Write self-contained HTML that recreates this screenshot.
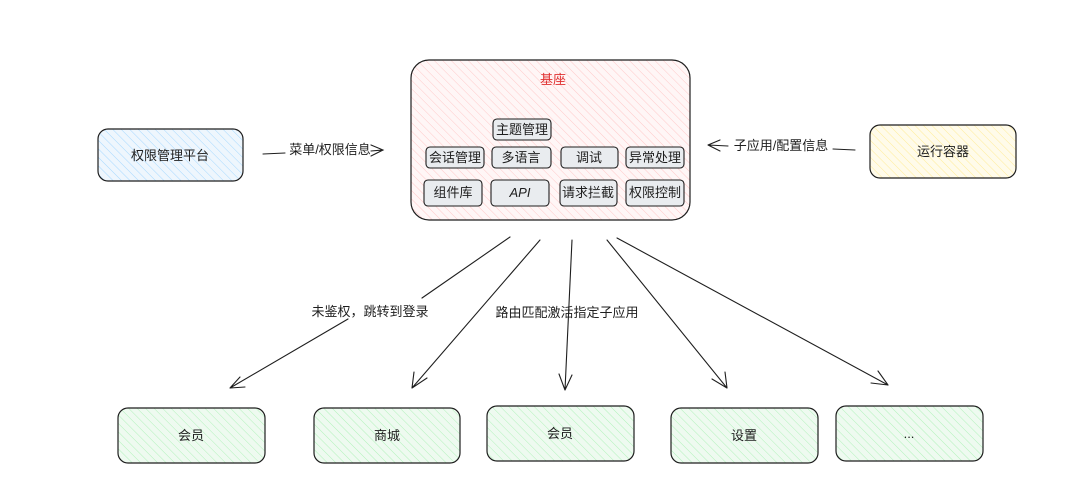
<!DOCTYPE html>
<html><head><meta charset="utf-8"><style>
html,body{margin:0;padding:0;background:#fff;}
svg text{font-family:"Liberation Sans","Noto Sans CJK SC",sans-serif;font-size:13px;fill:#1e1e1e;}
</style></head><body>
<svg width="1080" height="492" viewBox="0 0 1080 492" xmlns="http://www.w3.org/2000/svg">
<defs>
<pattern id="hr" width="6" height="6" patternUnits="userSpaceOnUse" patternTransform="rotate(-45)"><rect width="6" height="6" fill="#fff6f6"/><line x1="0" y1="0" x2="0" y2="6" stroke="#ffc9c9" stroke-width="1"/></pattern>
<pattern id="hb" width="6" height="6" patternUnits="userSpaceOnUse" patternTransform="rotate(-45)"><rect width="6" height="6" fill="#eef6fd"/><line x1="0" y1="0" x2="0" y2="6" stroke="#a5d8ff" stroke-width="1"/></pattern>
<pattern id="hy" width="6" height="6" patternUnits="userSpaceOnUse" patternTransform="rotate(-45)"><rect width="6" height="6" fill="#fffbea"/><line x1="0" y1="0" x2="0" y2="6" stroke="#ffec99" stroke-width="1"/></pattern>
<pattern id="hg" width="6" height="6" patternUnits="userSpaceOnUse" patternTransform="rotate(-45)"><rect width="6" height="6" fill="#eefaf0"/><line x1="0" y1="0" x2="0" y2="6" stroke="#b2f2bb" stroke-width="1"/></pattern>
</defs>
<g stroke="#1e1e1e" stroke-width="1.2">
<rect x="411" y="60" width="279" height="160" rx="18" fill="url(#hr)"/>
<rect x="98" y="129" width="145" height="52" rx="10" fill="url(#hb)"/>
<rect x="870" y="125" width="146" height="53" rx="10" fill="url(#hy)"/>
<rect x="118" y="408" width="147" height="55" rx="10" fill="url(#hg)"/>
<rect x="314" y="408" width="146" height="55" rx="10" fill="url(#hg)"/>
<rect x="487" y="406" width="147" height="55" rx="10" fill="url(#hg)"/>
<rect x="671" y="408" width="147" height="55" rx="10" fill="url(#hg)"/>
<rect x="836" y="406" width="147" height="55" rx="10" fill="url(#hg)"/>
</g>
<g stroke="#1e1e1e" stroke-width="1.1" fill="#e9ecef">
<rect x="493" y="119" width="58" height="21" rx="4"/>
<rect x="426" y="147" width="58" height="21" rx="4"/>
<rect x="492" y="147" width="59" height="21" rx="4"/>
<rect x="561" y="147" width="57" height="21" rx="4"/>
<rect x="626" y="147" width="58" height="21" rx="4"/>
<rect x="424" y="180" width="58" height="26" rx="4"/>
<rect x="491" y="180" width="58" height="26" rx="4"/>
<rect x="560" y="180" width="57" height="26" rx="4"/>
<rect x="626" y="180" width="58" height="26" rx="4"/>
</g>
<g stroke="#1e1e1e" stroke-width="1.1" fill="none" stroke-linecap="round">
<path d="M263 154 L285 153"/>
<path d="M371 151 L383 150 M371 145 L383 150 L371 156"/>
<path d="M855 150 L833 149"/>
<path d="M708 145 L728 146 M708 145 L720 140 M708 145 L720 151"/>
<path d="M510 237 L422 298 M348 319 L230 388 M230 388 L240 377 M230 388 L245 387"/>
<path d="M540 240 L412 388 M412 388 L414 372 M412 388 L427 378"/>
<path d="M572 240 L565 390 M565 390 L559 374 M565 390 L572 375"/>
<path d="M607 240 L727 388 M727 388 L712 379 M727 388 L725 372"/>
<path d="M617 238 L888 385 M888 385 L871 383 M888 385 L878 371"/>
</g>
<text x="553" y="84" text-anchor="middle" style="fill:#e03131">基座</text>
<g text-anchor="middle">
<text x="522" y="134">主题管理</text>
<text x="455" y="162">会话管理</text>
<text x="521" y="162">多语言</text>
<text x="589" y="162">调试</text>
<text x="655" y="162">异常处理</text>
<text x="453" y="197">组件库</text>
<text x="520" y="197" style="font-style:italic">API</text>
<text x="588" y="197">请求拦截</text>
<text x="655" y="197">权限控制</text>
<text x="170" y="160">权限管理平台</text>
<text x="943" y="156">运行容器</text>
<text x="330" y="154">菜单/权限信息</text>
<text x="781" y="150">子应用/配置信息</text>
<text x="370" y="316">未鉴权，跳转到登录</text>
<text x="567" y="317">路由匹配激活指定子应用</text>
<text x="191" y="440">会员</text>
<text x="387" y="440">商城</text>
<text x="560" y="438">会员</text>
<text x="744" y="440">设置</text>
<text x="909" y="438">...</text>
</g>
</svg>
</body></html>
